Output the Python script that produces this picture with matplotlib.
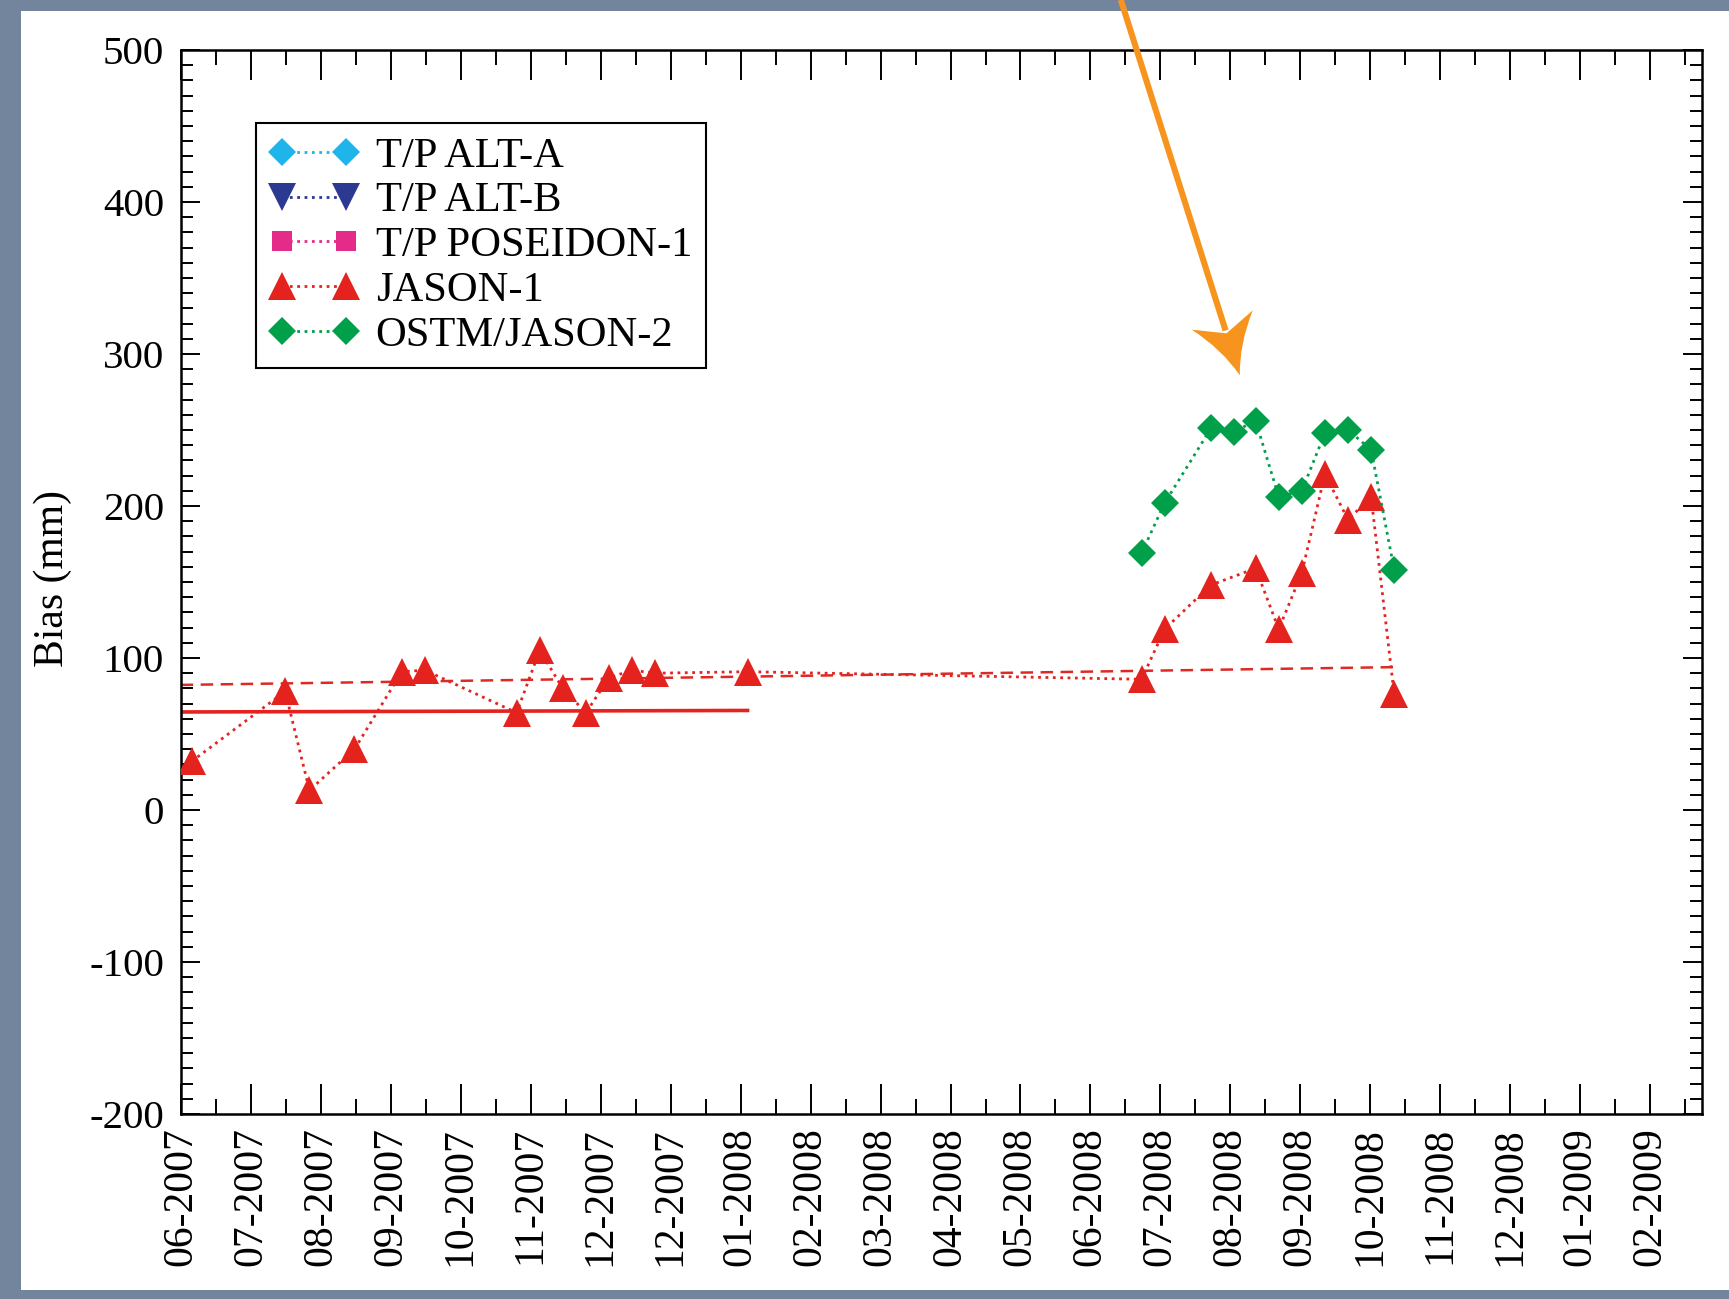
import numpy as np
import matplotlib
matplotlib.use("Agg")
import matplotlib.pyplot as plt
from matplotlib.lines import Line2D
from matplotlib.patches import Rectangle, PathPatch
from matplotlib.path import Path
from matplotlib.transforms import IdentityTransform
from matplotlib.ticker import MultipleLocator

SERIF = ["Liberation Serif", "DejaVu Serif"]
plt.rcParams["font.family"] = SERIF

# x axis is in days counted from the first labelled tick, one tick every 30 days
tick_step = 30
x_max = 652
tick_labels = ["06-2007", "07-2007", "08-2007", "09-2007", "10-2007", "11-2007",
               "12-2007", "12-2007", "01-2008", "02-2008", "03-2008", "04-2008",
               "05-2008", "06-2008", "07-2008", "08-2008", "09-2008", "10-2008",
               "11-2008", "12-2008", "01-2009", "02-2009"]
y_ticks = [-200, -100, 0, 100, 200, 300, 400, 500]
y_labels = ["-200", "-100", "0", "100", "200", "300", "400", "500"]

# series with no passes in this window (legend only)
alta_day, alta_bias = [], []
altb_day, altb_bias = [], []
pos_day, pos_bias = [], []

jason1_day = [4.7, 44.8, 55.2, 74.5, 94.8, 104.7, 144.0, 153.9, 163.8, 173.7,
              183.6, 193.5, 203.4, 243.0, 411.9, 421.8, 441.6, 460.8, 470.7,
              480.6, 490.5, 500.4, 510.3, 520.2]
jason1_bias = [32, 78, 13, 40, 91, 92, 64, 105, 80, 64,
               87, 92, 90, 91, 86, 119, 148, 159, 119,
               156, 221, 191, 206, 76]

jason2_day = [411.9, 421.8, 441.6, 451.5, 460.8, 470.7, 480.6, 490.5, 500.4,
              510.3, 520.2]
jason2_bias = [169, 202, 251, 249, 256, 206, 210, 248, 250, 237, 158]

# trend (dashed) and mean (solid) lines for JASON-1
trend_day = [0, 520]
trend_bias = [82.3, 94.0]
mean_day = [0, 243]
mean_bias = [64.5, 65.5]

# orange pointer, data coordinates of tail and tip
arrow_tail = (403, 533)
arrow_tip = (454, 286)

RED = "#e4231f"
GREEN = "#009f4a"
ORANGE = "#f7941e"


def main() -> None:
    fig = plt.figure(figsize=(17.29, 12.99), dpi=100, facecolor="#73849d")
    fig.add_artist(Rectangle((0.0121, 0.0069), 0.9879, 0.9846, transform=fig.transFigure,
                             facecolor="white", edgecolor="none", zorder=-5))
    ax = fig.add_axes([0.1045, 0.1424, 0.8797, 0.8191])

    ax.plot(trend_day, trend_bias, ls=(0, (5, 3)), color="#dd2a24", lw=1.8, zorder=2)
    ax.plot(mean_day, mean_bias, ls="-", color=RED, lw=2.6, zorder=2)

    ax.plot(alta_day, alta_bias, ls=":", lw=2, marker="D", ms=14, mew=0,
            color="#1fb4ea", label="T/P ALT-A")
    ax.plot(altb_day, altb_bias, ls=":", lw=2, marker="v", ms=20, mew=0,
            color="#2b3990", label="T/P ALT-B")
    ax.plot(pos_day, pos_bias, ls=":", lw=2, marker="s", ms=15, mew=0,
            color="#e52b8a", label="T/P POSEIDON-1")
    ax.plot(jason1_day, jason1_bias, ls=":", lw=2, marker="^", ms=20, mew=0,
            color=RED, label="JASON-1", zorder=3)
    ax.plot(jason2_day, jason2_bias, ls=":", lw=2, marker="D", ms=14, mew=0,
            color=GREEN, label="OSTM/JASON-2", zorder=3)

    ax.set_xlim(0, x_max)
    ax.set_ylim(-200, 500)
    ax.set_xticks(np.arange(len(tick_labels)) * tick_step)
    ax.set_xticklabels(tick_labels, rotation=90, fontsize=30, fontfamily=SERIF)
    ax.xaxis.set_minor_locator(MultipleLocator(tick_step / 2))
    ax.set_yticks(y_ticks)
    ax.set_yticklabels(y_labels, fontsize=29.5, fontfamily=SERIF)
    ax.yaxis.set_minor_locator(MultipleLocator(10))

    ax.tick_params(which="both", direction="in", top=True, right=True, width=1.4, color="black")
    ax.tick_params(axis="x", which="major", length=21.6, pad=9.4)
    ax.tick_params(axis="x", which="minor", length=10.6)
    ax.tick_params(axis="y", which="major", length=14, pad=12)
    ax.tick_params(axis="y", which="minor", length=8.5)
    for sp in ax.spines.values():
        sp.set_linewidth(1.8)

    ax.set_ylabel("Bias (mm)", fontsize=30, fontfamily=SERIF)
    ax.yaxis.set_label_coords(-0.0715, 0.5035)

    leg = ax.legend(loc="upper left", bbox_to_anchor=(0.0494, 0.931), borderaxespad=0,
                    prop={"family": SERIF, "size": 30.6}, frameon=True, fancybox=False,
                    framealpha=1, edgecolor="black", handlelength=2.1, handletextpad=0.40,
                    borderpad=0.32, labelspacing=0.14, numpoints=2)
    leg.get_frame().set_linewidth(1.5)

    # arrow built in pixel space so the head keeps its stealth shape
    tip = ax.transData.transform(arrow_tip)
    tail = ax.transData.transform(arrow_tail)
    u = (tip - tail) / np.hypot(*(tip - tail))
    n = np.array([-u[1], u[0]])
    head_len, half_w, notch = 58, 32, 44
    w1 = tip - head_len * u + half_w * n
    w2 = tip - head_len * u - half_w * n
    c1 = tip - 30 * u + 9 * n
    c2 = tip - 30 * u - 9 * n
    back = tip - notch * u
    fig.add_artist(Line2D([tail[0], back[0] - 3 * u[0]], [tail[1], back[1] - 3 * u[1]],
                          color=ORANGE, lw=4.4, transform=IdentityTransform(),
                          solid_capstyle="butt", zorder=10))
    verts = [tip, c1, w1, back, w2, c2, tip, tip]
    codes = [Path.MOVETO, Path.CURVE3, Path.CURVE3, Path.LINETO, Path.LINETO,
             Path.CURVE3, Path.CURVE3, Path.CLOSEPOLY]
    fig.add_artist(PathPatch(Path(verts, codes), facecolor=ORANGE, edgecolor="none",
                             transform=IdentityTransform(), zorder=10))

    fig.savefig("out.png", dpi=100, facecolor=fig.get_facecolor())


if __name__ == "__main__":
    main()
